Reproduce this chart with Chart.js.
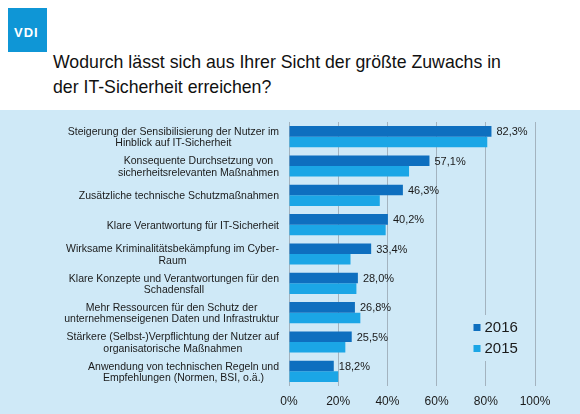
<!DOCTYPE html>
<html lang="de">
<head>
<meta charset="utf-8">
<title>IT-Sicherheit</title>
<script src="https://cdn.jsdelivr.net/npm/chart.js@4.4.1/dist/chart.umd.min.js"></script>
<style>
    html, body { margin: 0; padding: 0; background: #ffffff; }
    body { width: 580px; height: 414px; position: relative; overflow: hidden; font-family: Arial, "Liberation Sans", sans-serif; }
    #logo { position: absolute; left: 8px; top: 8px; width: 39px; height: 44px; background: #0f96d6; color: #fff;
            font: bold 13px Arial, "Liberation Sans", sans-serif; letter-spacing: 1px; box-sizing: border-box; padding: 17px 0 0 6px; }
    #title { position: absolute; left: 53px; top: 50px; margin: 0; font: normal 17.7px Arial, "Liberation Sans", sans-serif;
             line-height: 24.5px; color: #111; }
    #panel { position: absolute; left: 0; top: 110px; width: 580px; height: 304px; background: #cfe9f7; }
</style>
</head>
<body>
<div id="logo">VDI</div>
<h1 id="title">Wodurch lässt sich aus Ihrer Sicht der größte Zuwachs in<br>der IT-Sicherheit erreichen?</h1>
<div id="panel"><canvas id="chart" width="580" height="304"></canvas></div>

<script>
// Data
const categories = [
    ['Steigerung der Sensibilisierung der Nutzer im', 'Hinblick auf IT-Sicherheit'],
    ['Konsequente Durchsetzung von', 'sicherheitsrelevanten Maßnahmen'],
    ['Zusätzliche technische Schutzmaßnahmen'],
    ['Klare Verantwortung für IT-Sicherheit'],
    ['Wirksame Kriminalitätsbekämpfung im Cyber-', 'Raum'],
    ['Klare Konzepte und Verantwortungen für den', 'Schadensfall'],
    ['Mehr Ressourcen für den Schutz der', 'unternehmenseigenen Daten und Infrastruktur'],
    ['Stärkere (Selbst-)Verpflichtung der Nutzer auf', 'organisatorische Maßnahmen'],
    ['Anwendung von technischen Regeln und', 'Empfehlungen (Normen, BSI, o.ä.)']
];
const values2016 = [82.3, 57.1, 46.3, 40.2, 33.4, 28.0, 26.8, 25.5, 18.2];
const values2015 = [80.6, 48.8, 36.9, 39.3, 25.0, 27.4, 29.0, 22.9, 20.0];
const xTickLabels = ['0%', '20%', '40%', '60%', '80%', '100%'];

const dark = '#0e6fbf';
const light = '#1ba6e6';
const gridColor = '#a3b3bf';
const textColor = '#1a1a1a';
const panelColor = '#cfe9f7';
const fontFamily = 'Arial, "Liberation Sans", sans-serif';

/**
 * Category labels: right aligned block, lines centered inside the block
 */
const categoryLabels = {
    id: 'categoryLabels',
    afterDatasetsDraw(chart) {
        const ctx = chart.ctx;
        const yScale = chart.scales.y;
        const right = chart.chartArea.left - 10;
        const lineHeight = 11.3;
        ctx.save();
        ctx.font = '10.5px ' + fontFamily;
        ctx.fillStyle = textColor;
        ctx.textAlign = 'center';
        ctx.textBaseline = 'middle';
        categories.forEach((lines, i) => {
            const widest = Math.max(...lines.map(l => ctx.measureText(l).width));
            const cx = right - widest / 2;
            const cy = yScale.getPixelForValue(i) + 1;
            const top = cy - (lines.length - 1) * lineHeight / 2;
            lines.forEach((line, j) => ctx.fillText(line, cx, top + j * lineHeight));
        });
        ctx.restore();
    }
};

/**
 * Value labels next to the 2016 bars
 */
const valueLabels = {
    id: 'valueLabels',
    afterDatasetsDraw(chart) {
        const ctx = chart.ctx;
        const meta = chart.getDatasetMeta(0);
        ctx.save();
        ctx.font = '11px ' + fontFamily;
        ctx.fillStyle = textColor;
        ctx.textAlign = 'left';
        ctx.textBaseline = 'middle';
        meta.data.forEach((bar, i) => {
            const text = values2016[i].toFixed(1).replace('.', ',') + '%';
            ctx.fillText(text, bar.x + 5, bar.y + 1);
        });
        ctx.restore();
    }
};

/**
 * Legend inside the plot, bottom right
 */
const insideLegend = {
    id: 'insideLegend',
    afterDatasetsDraw(chart) {
        const ctx = chart.ctx;
        const x = chart.scales.x.getPixelForValue(75);
        const y = chart.chartArea.bottom - 65;
        ctx.save();
        ctx.fillStyle = panelColor;
        ctx.fillRect(x - 4, y - 6, 62, 46);
        ctx.font = '15px ' + fontFamily;
        ctx.textBaseline = 'middle';
        chart.data.datasets.forEach((ds, i) => {
            const cy = y + 7 + i * 21;
            ctx.fillStyle = ds.backgroundColor;
            ctx.fillRect(x, cy - 4, 7, 7);
            ctx.fillStyle = textColor;
            ctx.fillText(ds.label, x + 11, cy);
        });
        ctx.restore();
    }
};

new Chart(document.getElementById('chart'), {
    type: 'bar',
    data: {
        labels: categories,
        datasets: [
            { label: '2016', data: values2016, backgroundColor: dark },
            { label: '2015', data: values2015, backgroundColor: light }
        ]
    },
    options: {
        indexAxis: 'y',
        responsive: false,
        animation: false,
        layout: { padding: { left: 289, right: 45, top: 12, bottom: 0 } },
        datasets: { bar: { categoryPercentage: 0.72, barPercentage: 1 } },
        plugins: { legend: { display: false }, tooltip: { enabled: false } },
        scales: {
            x: {
                min: 0,
                max: 100,
                afterFit: (scale) => { scale.height = 28; },
                ticks: {
                    stepSize: 20,
                    padding: 8,
                    color: textColor,
                    font: { family: fontFamily, size: 12 },
                    callback: (value, index) => xTickLabels[index]
                },
                grid: { color: gridColor, drawTicks: false },
                border: { display: false }
            },
            y: { display: false }
        }
    },
    plugins: [categoryLabels, valueLabels, insideLegend]
});
</script>
</body>
</html>
